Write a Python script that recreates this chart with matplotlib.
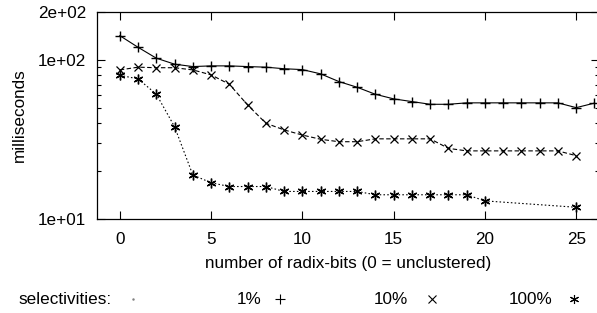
import matplotlib
matplotlib.use("Agg")
import matplotlib.pyplot as plt
from matplotlib.lines import Line2D
from matplotlib.ticker import LogLocator, NullFormatter, FixedLocator, FixedFormatter

plt.rcParams['font.family'] = ['Liberation Sans', 'DejaVu Sans']
plt.rcParams['font.size'] = 12.3

# radix bits and timings (ms)
bits_1 = list(range(27))
ms_1 = [142, 120, 102.5, 94, 90.8, 91.7, 91.7, 90.8, 90, 88, 86.9, 81.7, 73.1,
        67.3, 60.8, 56.9, 54.7, 52.6, 52.6, 53.7, 53.7, 53.7, 53.7, 53.7, 53.7,
        50.1, 53.5]

bits_10 = list(range(26))
ms_10 = [86.5, 90, 89.3, 89.3, 86.5, 80.5, 70.3, 52.1, 40, 36.3, 33.7, 31.7,
         30.6, 30.6, 31.9, 31.9, 31.9, 31.9, 27.8, 26.8, 26.8, 26.8, 26.8, 26.8,
         26.8, 25.0]

bits_100 = list(range(21)) + [25]
ms_100 = [80, 76, 60.9, 38, 18.9, 16.9, 16.0, 16.0, 16.0, 14.9, 14.9, 14.9,
          14.9, 14.9, 14.2, 14.2, 14.2, 14.2, 14.2, 14.2, 13.0, 11.85]

labels = ['1%', '10%', '100%']

W, H = 597, 313
fig = plt.figure(figsize=(W / 100, H / 100), dpi=100)
ax = fig.add_axes([97 / W, 1 - 219 / H, (599 - 97) / W, (219 - 12) / H])

lw = 0.8
ax.plot(bits_1, ms_1, color='black', lw=lw, ls='-', marker='+', ms=7, mew=1)
ax.plot(bits_10, ms_10, color='black', lw=lw, ls=(0, (4, 2.2)), marker='x', ms=6, mew=0.9)
ax.plot(bits_100, ms_100, color='black', lw=lw, ls=(0, (1.4, 2)), marker=(6, 2, 0), ms=7, mew=1)

ax.set_yscale('log')
ax.set_xlim(-1.25, 26.25)
ax.set_ylim(10, 200)
ax.yaxis.set_major_locator(FixedLocator([10, 100, 200]))
ax.yaxis.set_major_formatter(FixedFormatter(['1e+01', '1e+02', '2e+02']))
ax.yaxis.set_minor_locator(LogLocator(base=10, subs=[2, 3, 4, 5, 6, 7, 8, 9]))
ax.yaxis.set_minor_formatter(NullFormatter())
ax.set_xticks([0, 5, 10, 15, 20, 25])

ax.tick_params(which='both', direction='in', top=True, right=True, width=0.8)
ax.tick_params(which='major', length=6)
ax.tick_params(axis='x', which='major', pad=9)
ax.tick_params(axis='y', which='major', pad=8)
ax.tick_params(which='minor', length=3)
for s in ax.spines.values():
    s.set_linewidth(0.9)

ax.set_xlabel('number of radix-bits (0 = unclustered)', labelpad=7)
ax.set_ylabel('milliseconds', labelpad=8)

# key along the bottom, gnuplot style
ky = 1 - 299 / H
fig.text(112 / W, ky, 'selectivities:', ha='right', va='center')
fig.add_artist(Line2D([133 / W], [ky], marker='.', ms=1.5, color='gray', transform=fig.transFigure))
mk = ['+', 'x', (6, 2, 0)]
mk_size = [6.5, 5.8, 6.5]
txt_x = [261, 408, 553]
mk_x = [280, 432, 574]
for lab, tx, mx, m, sz in zip(labels, txt_x, mk_x, mk, mk_size):
    fig.text(tx / W, ky, lab, ha='right', va='center')
    fig.add_artist(Line2D([mx / W], [ky], marker=m, ms=sz, mew=0.8, color='black',
                          transform=fig.transFigure))

fig.savefig('out.png', dpi=100)
